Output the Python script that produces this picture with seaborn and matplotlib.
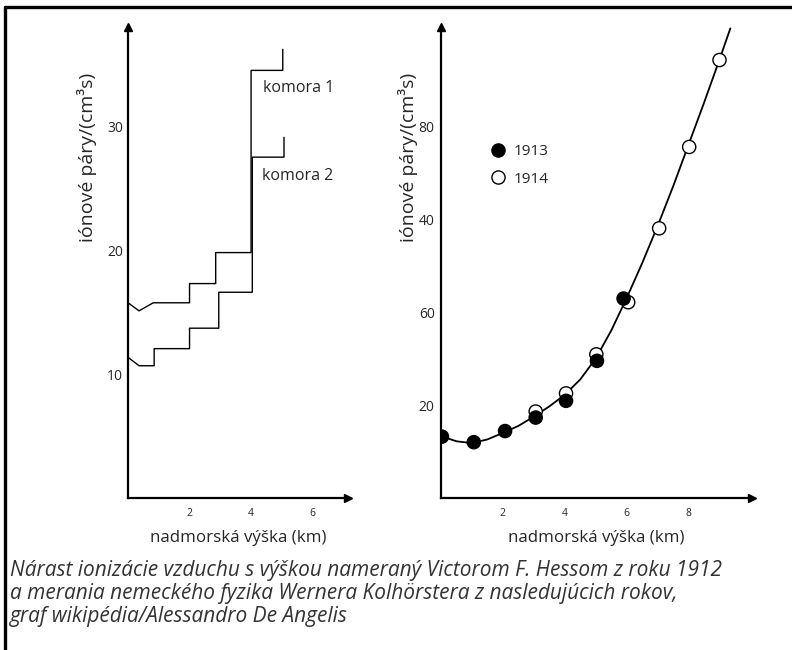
import pandas as pd
import matplotlib
matplotlib.use("Agg")
import matplotlib.pyplot as plt
from matplotlib.lines import Line2D
import seaborn as sns

# ── left panel: two ionisation chambers (Hess 1912) ──────────────────────────
K1_KM  = [0.0, 0.36, 0.82, 2.0, 2.0, 2.85, 2.85, 4.0, 4.0, 5.03, 5.03]
K1_VAL = [15.75, 15.1, 15.75, 15.75, 17.3, 17.3, 19.8, 19.8, 34.5, 34.5, 36.2]
K2_KM  = [0.0, 0.36, 0.85, 0.85, 2.0, 2.0, 2.95, 2.95, 4.04, 4.04, 5.07, 5.07]
K2_VAL = [11.35, 10.67, 10.67, 12.05, 12.05, 13.7, 13.7, 16.6, 16.6, 27.5, 27.5, 29.1]
LEFT_XTICKS = [2, 4, 6]
LEFT_YTICKS = [10, 20, 30]

# ── right panel: Kolhörster 1913 / 1914 ──────────────────────────────────────
Y1913_KM  = [0.03, 1.06, 2.07, 3.06, 4.04, 5.04, 5.9]
Y1913_VAL = [13.2, 12.0, 14.4, 17.3, 20.9, 29.5, 42.9]
Y1914_KM  = [3.06, 4.04, 5.02, 6.05, 7.05, 8.02, 9.0]
Y1914_VAL = [18.6, 22.5, 30.9, 42.1, 58.0, 75.5, 94.2]
CURVE_KM  = [0.0, 0.5, 1.0, 1.5, 2.0, 2.5, 3.0, 3.5, 4.0, 4.5, 5.0,
             5.5, 6.0, 6.5, 7.0, 7.5, 8.0, 8.5, 9.0, 9.35]
CURVE_VAL = [13.3, 12.2, 11.8, 12.6, 14.0, 15.5, 17.5, 19.7, 22.2, 25.5, 30.0,
             36.0, 43.0, 50.5, 58.5, 67.0, 76.0, 85.0, 94.3, 101.0]
RIGHT_XTICKS = [2, 4, 6, 8]
RIGHT_YTICKS = [20, 40, 60, 80]
RIGHT_YTICKLABELS = ["20", "60", "40", "80"]   # as printed in the source figure

YLABEL = "iónové páry/(cm³s)"
XLABEL = "nadmorská výška (km)"
CAPTION = [
    "Nárast ionizácie vzduchu s výškou nameraný Victorom F. Hessom z roku 1912",
    "a merania nemeckého fyzika Wernera Kolhörstera z nasledujúcich rokov,",
    "graf wikipédia/Alessandro De Angelis",
]

sns.set_style("white")
plt.rcParams["font.family"] = ["Open Sans", "DejaVu Sans"]

W, H = 792, 650
fig = plt.figure(figsize=(W / 100, H / 100), dpi=100)


def px_axes(x0, y0, x1, y1):
    return fig.add_axes([x0 / W, 1 - y1 / H, (x1 - x0) / W, (y1 - y0) / H])


def style_axes(ax, ypad):
    for side in ("top", "right"):
        ax.spines[side].set_visible(False)
    for side in ("left", "bottom"):
        ax.spines[side].set_color("black")
        ax.spines[side].set_linewidth(1.6)
    ax.plot(1, 0, ">", color="black", ms=6, transform=ax.transAxes, clip_on=False)
    ax.plot(0, 1, "^", color="black", ms=6, transform=ax.transAxes, clip_on=False)
    ax.tick_params(direction="in", length=7, width=1.5, color="black")
    ax.tick_params(axis="x", labelsize=7.5, pad=7)
    ax.tick_params(axis="y", labelsize=10, pad=ypad)
    ax.set_xlabel(XLABEL, fontsize=12.2, labelpad=8)
    ax.set_ylabel(YLABEL, fontsize=14)


# ── left ─────────────────────────────────────────────────────────────────────
ax1 = px_axes(128, 27, 348, 498)
sns.lineplot(x=K1_KM, y=K1_VAL, sort=False, estimator=None, color="black", lw=1.0, ax=ax1)
sns.lineplot(x=K2_KM, y=K2_VAL, sort=False, estimator=None, color="black", lw=1.0, ax=ax1)
ax1.set_xlim(0, 7.15)
ax1.set_ylim(0, 38.0)
ax1.set_xticks(LEFT_XTICKS)
ax1.set_yticks(LEFT_YTICKS)
style_axes(ax1, 3.5)
ax1.yaxis.set_label_coords(-0.14, 0.724)
ax1.text(4.39, 33.1, "komora 1", fontsize=11.5, va="center")
ax1.text(4.36, 26.0, "komora 2", fontsize=11.5, va="center")

# ── right ────────────────────────────────────────────────────────────────────
ax2 = px_axes(441, 27, 752, 498)
sns.lineplot(x=CURVE_KM, y=CURVE_VAL, sort=False, estimator=None, color="black", lw=1.3, ax=ax2)
pts = pd.DataFrame({
    "km":   Y1914_KM + Y1913_KM,
    "val":  Y1914_VAL + Y1913_VAL,
    "year": ["1914"] * len(Y1914_KM) + ["1913"] * len(Y1913_KM),
})
sns.scatterplot(data=pts, x="km", y="val", hue="year", hue_order=["1913", "1914"],
                palette={"1913": "black", "1914": "white"}, edgecolor="black",
                linewidth=1.0, s=90, zorder=3, ax=ax2)
sns.move_legend(ax2, "upper left", bbox_to_anchor=(0.09, 0.78), frameon=False,
                title=None, fontsize=11, handletextpad=0.0, labelspacing=0.8)
ax2.set_xlim(0, 10.05)
ax2.set_ylim(0, 101.3)
ax2.set_xticks(RIGHT_XTICKS)
ax2.set_yticks(RIGHT_YTICKS)
ax2.set_yticklabels(RIGHT_YTICKLABELS)
style_axes(ax2, 4.5)
ax2.yaxis.set_label_coords(-0.075, 0.724)

# ── caption + frame ──────────────────────────────────────────────────────────
for i, line in enumerate(CAPTION):
    fig.text(10 / W, 1 - (576 + 23 * i) / H, line, fontsize=15, style="italic",
             color="#333333", va="baseline", ha="left")

fig.add_artist(Line2D([5 / W, 1], [1 - 7 / H, 1 - 7 / H], color="black", lw=2.4))
fig.add_artist(Line2D([5 / W, 5 / W], [1 - 7 / H, 0], color="black", lw=2.4))

fig.savefig("out.png", dpi=100)
